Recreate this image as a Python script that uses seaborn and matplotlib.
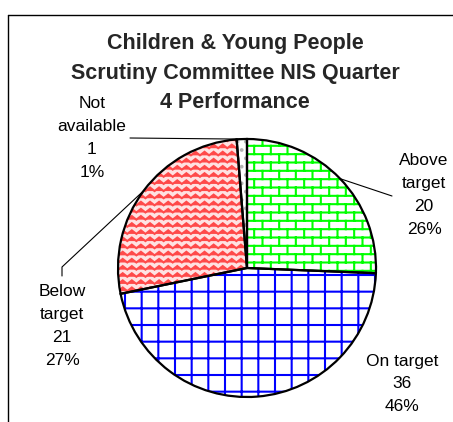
import numpy as np
import matplotlib
matplotlib.use("Agg")
import matplotlib.pyplot as plt
import matplotlib.hatch as mhatch
from matplotlib.path import Path
import seaborn as sns

# data
categories = ["Above target", "On target", "Below target", "Not available"]
label_names = ["Above\ntarget", "On target", "Below\ntarget", "Not\navailable"]
values = [20, 36, 21, 1]
fill_colors = ["white", "white", "#ffe2e2", "white"]
hatch_colors = ["#00ff00", "#0000ff", "#ff4a4a", "#b4b4b4"]
hatches = ["*", "+", "O", ".."]
title_lines = ["Children & Young People", "Scrutiny Committee NIS Quarter", "4 Performance"]

# layout in pixels from the top left corner
W, H = 453, 422
pie_center = (247, 268)
pie_radius = 129
label_pos = [(424, 195), (402, 384), (62, 326), (92, 138)]
leader_ends = [[(392, 196)], None, [(62, 267), (62, 276)], [(130, 138)]]


class BrickHatch(mhatch.HatchPatternBase):
    # excel brick pattern, used for '*'
    rows, cols = 12, 6

    def __init__(self, hatch, density):
        on = '*' in hatch
        self.num_vertices = 2 * (self.rows + self.rows * self.cols + self.cols) if on else 0

    def set_vertices_and_codes(self, vertices, codes):
        h = 1.0 / self.rows
        segs = []
        for k in range(self.rows):
            y = (k + 0.5) * h
            segs.append(((0.0, y), (1.0, y)))
        for b in range(self.rows):
            xs = (np.arange(self.cols) + 0.25 + 0.5 * (b % 2)) / self.cols
            if b == 0:
                spans = [(1 - 0.5 * h, 1.0), (0.0, 0.5 * h)]
            else:
                spans = [((b - 0.5) * h, (b + 0.5) * h)]
            for y0, y1 in spans:
                for x in xs:
                    segs.append(((x, y0), (x, y1)))
        vertices[:] = np.array(segs).reshape(-1, 2)
        codes[0::2] = Path.MOVETO
        codes[1::2] = Path.LINETO


class ChevronHatch(mhatch.HatchPatternBase):
    # zig-zag weave, used for 'O'
    rows, teeth = 14, 11

    def __init__(self, hatch, density):
        self.num_vertices = self.rows * (2 * self.teeth + 1) if 'O' in hatch else 0

    def set_vertices_and_codes(self, vertices, codes):
        n = 2 * self.teeth + 1
        x = np.linspace(0, 1, n)
        zig = np.where(np.arange(n) % 2 == 0, 0.0, 0.5)
        for r in range(self.rows):
            sl = slice(r * n, (r + 1) * n)
            vertices[sl, 0] = x
            vertices[sl, 1] = (r + 0.25 + zig) / self.rows
            codes[sl] = Path.LINETO
            codes[r * n] = Path.MOVETO


mhatch._hatch_types[mhatch._hatch_types.index(mhatch.Stars)] = BrickHatch
mhatch._hatch_types[mhatch._hatch_types.index(mhatch.LargeCircles)] = ChevronHatch

sns.set_style("white")
plt.rcParams['font.family'] = ['Liberation Sans', 'DejaVu Sans']
plt.rcParams['hatch.linewidth'] = 1.5

fig = plt.figure(figsize=(W / 100, H / 100), dpi=100)
ax = fig.add_axes([0, 0, 1, 1])

cx, cy = pie_center[0], H - pie_center[1]
wedges, _ = ax.pie(values, startangle=90, counterclock=False, center=(cx, cy),
                   radius=pie_radius, colors=fill_colors,
                   wedgeprops=dict(linewidth=0), frame=True)
for w, hc, h in zip(wedges, hatch_colors, hatches):
    w.set_edgecolor(hc)
    w.set_hatch(h)
# black outlines on top
ax.pie(values, startangle=90, counterclock=False, center=(cx, cy),
       radius=pie_radius, wedgeprops=dict(fill=False, edgecolor='black', linewidth=1.6),
       frame=True)

total = sum(values)
for i, w in enumerate(wedges):
    pct = round(100 * values[i] / total)
    txt = f"{label_names[i]}\n{values[i]}\n{pct}%"
    lx, ly = label_pos[i]
    ax.text(lx, H - ly, txt, ha='center', va='center', fontsize=12.5,
            linespacing=1.65, color='black')
    if leader_ends[i]:
        a = np.deg2rad((w.theta1 + w.theta2) / 2)
        xs = [cx + pie_radius * np.cos(a)] + [p[0] for p in leader_ends[i]]
        ys = [cy + pie_radius * np.sin(a)] + [H - p[1] for p in leader_ends[i]]
        ax.plot(xs, ys, color='black', lw=0.8)

# title, one text per line
for k, line in enumerate(title_lines):
    ax.text(235, H - (43 + 30 * k), line, ha='center', va='center', fontsize=15.5,
            fontweight='bold')

# chart area border
ax.plot([8, W], [H - 15, H - 15], color='black', lw=1)
ax.plot([8, 8], [H - 15, 0], color='black', lw=1)

ax.set_xlim(0, W)
ax.set_ylim(0, H)
ax.axis('off')
fig.savefig("out.png", dpi=100)
